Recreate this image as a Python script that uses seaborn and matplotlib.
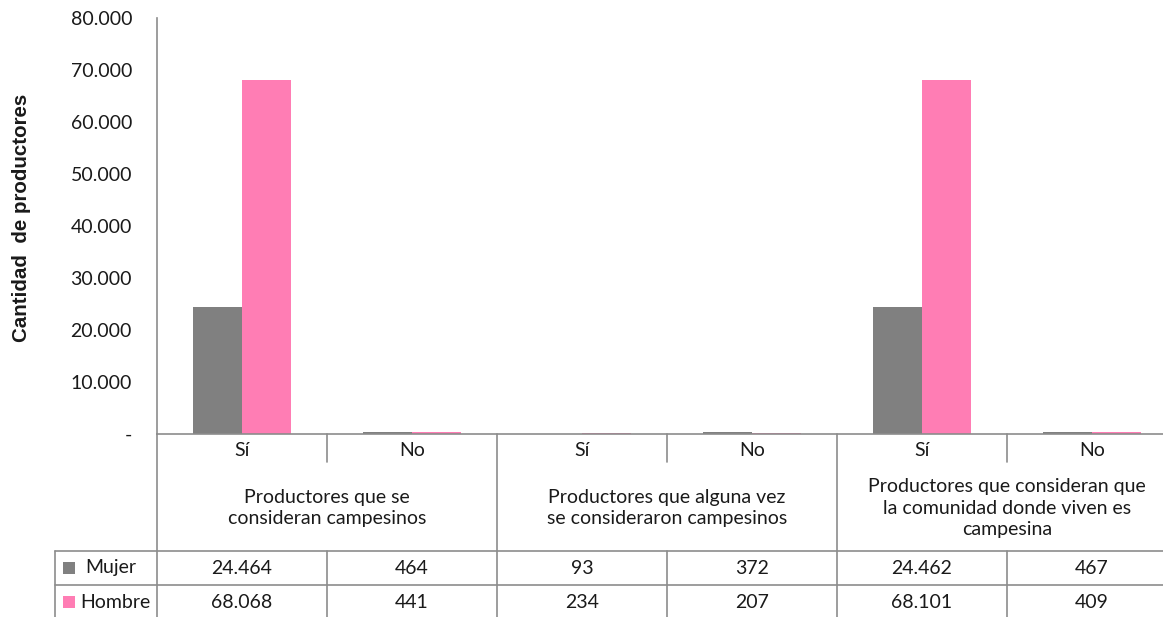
import pandas as pd
import numpy as np
import matplotlib
matplotlib.use("Agg")
import matplotlib.pyplot as plt
import seaborn as sns
from matplotlib.patches import Rectangle
from matplotlib.lines import Line2D

# ---- data ----
groups = [
    "Productores que se\nconsideran campesinos",
    "Productores que alguna vez\nse consideraron campesinos",
    "Productores que consideran que\nla comunidad donde viven es\ncampesina",
]
answers = ["Sí", "No"]
series = ["Mujer", "Hombre"]
mujer = [24464, 464, 93, 372, 24462, 467]
hombre = [68068, 441, 234, 207, 68101, 409]
y_ticks = [0, 10000, 20000, 30000, 40000, 50000, 60000, 70000, 80000]

colors = {"Mujer": "#808080", "Hombre": "#FF7DB4"}
line_col = "#8C8C8C"
text_col = "#1a1a1a"
fs = 14

slots = [f"{g}|{a}" for g in range(len(groups)) for a in answers]
rows = []
for i, slot in enumerate(slots):
    rows.append({"slot": slot, "sexo": "Mujer", "valor": mujer[i]})
    rows.append({"slot": slot, "sexo": "Hombre", "valor": hombre[i]})
df = pd.DataFrame(rows)

sns.set_theme(style="white")
plt.rcParams["font.family"] = ["Lato", "DejaVu Sans"]

W, H = 1163, 617
fig = plt.figure(figsize=(W / 100, H / 100), dpi=100)


def fx(px):
    return px / W


def fy(py):
    return 1 - py / H


def fmt(v):
    return f"{v:,}".replace(",", ".")


ax_left, ax_right, ax_top, ax_bottom = 157, 1177, 18, 434
ax = fig.add_axes([fx(ax_left), fy(ax_bottom), fx(ax_right - ax_left), (ax_bottom - ax_top) / H])

sns.barplot(data=df, x="slot", y="valor", hue="sexo", order=slots,
            hue_order=series, palette=colors, width=0.58, saturation=1,
            linewidth=0, legend=False, ax=ax)

ax.set_ylim(0, 80000)
ax.set_xlim(-0.5, len(slots) - 0.5)
ax.set_yticks(y_ticks)
ax.set_yticklabels(["-"] + [fmt(v) for v in y_ticks[1:]], fontsize=fs, color=text_col)
ax.tick_params(axis="y", direction="out", length=5, width=1, color=line_col, pad=13)
ax.tick_params(axis="x", bottom=False, labelbottom=False)
ax.set_xlabel("")
ax.set_ylabel("Cantidad  de productores", fontsize=14.8, fontweight="bold",
              family="Liberation Sans", color=text_col)
ax.yaxis.set_label_coords((31 - ax_left) / (ax_right - ax_left),
                          (ax_bottom - 218) / (ax_bottom - ax_top))
for s in ["top", "right"]:
    ax.spines[s].set_visible(False)
for s in ["left", "bottom"]:
    ax.spines[s].set_color(line_col)
    ax.spines[s].set_linewidth(1.2)

# ---- data table below the axes ----
tr = fig.transFigure
table_bottom = 617
row_mujer, row_hombre = 551, 585
slot_w = (ax_right - ax_left) / len(slots)


def hline(x0, x1, y):
    fig.add_artist(Line2D([fx(x0), fx(x1)], [fy(y), fy(y)], transform=tr,
                          color=line_col, lw=1.2))


def vline(x, y0, y1):
    fig.add_artist(Line2D([fx(x), fx(x)], [fy(y0), fy(y1)], transform=tr,
                          color=line_col, lw=1.2))


hline(55, W, row_mujer)
hline(55, W, row_hombre)
vline(55, row_mujer, table_bottom)
vline(ax_left, ax_bottom, table_bottom)
for k in range(1, len(slots)):
    x = ax_left + k * slot_w
    if k % 2 == 0:
        vline(x, ax_bottom, table_bottom)
    else:
        vline(x, ax_bottom, 462)
        vline(x, row_mujer, table_bottom)

txt = dict(ha="center", va="center", fontsize=fs, color=text_col, transform=tr)
for i, slot in enumerate(slots):
    cx = ax_left + (i + 0.5) * slot_w
    fig.text(fx(cx), fy(450), answers[i % 2], **txt)
    fig.text(fx(cx), fy(568), fmt(mujer[i]), **txt)
    fig.text(fx(cx), fy(602), fmt(hombre[i]), **txt)
for g, label in enumerate(groups):
    cx = ax_left + (2 * g + 1) * slot_w
    fig.text(fx(cx), fy(508), label, linespacing=1.3, **txt)

# legend keys inside the table
for name, y_mid, tx in [("Mujer", 568, 85), ("Hombre", 602, 80)]:
    fig.add_artist(Rectangle((fx(63), fy(y_mid + 6)), fx(12), 12 / H, transform=tr,
                             facecolor=colors[name], edgecolor="none"))
    fig.text(fx(tx), fy(y_mid), name, ha="left", va="center", fontsize=fs,
             color=text_col, transform=tr)

fig.savefig("out.png", dpi=100)
